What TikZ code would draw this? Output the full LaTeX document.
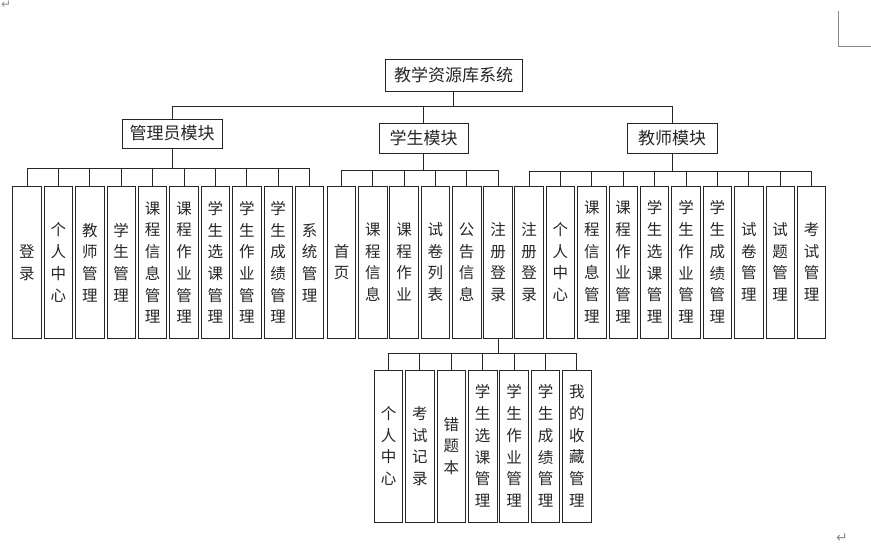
\documentclass[tikz,border=0pt]{standalone}
\usepackage{fontspec}
\newfontfamily\cjk{Noto Sans CJK SC}
\newfontfamily\dejavu{DejaVu Sans}
\begin{document}
\begin{tikzpicture}[x=1pt,y=-1pt,
  box/.style={draw=black!85,line width=0.9pt,inner sep=0pt,font={\cjk\fontsize{17}{19}\selectfont},text=black!85},
  leaf/.style={draw=black!85,line width=0.9pt,inner sep=0pt,minimum width=28.5pt,minimum height=152pt,align=center,font={\cjk\fontsize{15.5}{21.7}\selectfont},text=black!85},
  conn/.style={draw=black!85,line width=0.9pt},
  pagemark/.style={draw=black!45,line width=0.7pt}]
\useasboundingbox (0,0) rectangle (871,546);
% top level
\node[box,minimum width=137pt,minimum height=32pt] (root) at (453.5,75) {教学资源库系统};
\node[box,minimum width=100pt,minimum height=29pt] (adm) at (172,133.5) {管理员模块};
\node[box,minimum width=89pt,minimum height=30pt] (stu) at (423.5,138) {学生模块};
\node[box,minimum width=90pt,minimum height=30pt] (tea) at (672,138) {教师模块};
\coordinate (b0) at (0,106);
\draw[conn] (root.south) -- (root.south |- b0);
\draw[conn] (adm.north |- b0) -- (tea.north |- b0);
\draw[conn] (adm.north |- b0) -- (adm.north);
\draw[conn] (stu.north |- b0) -- (stu.north);
\draw[conn] (tea.north |- b0) -- (tea.north);
% admin leaves
\foreach \t [count=\i] in {{登\\录},{个\\人\\中\\心},{教\\师\\管\\理},{学\\生\\管\\理},{课\\程\\信\\息\\管\\理},{课\\程\\作\\业\\管\\理},{学\\生\\选\\课\\管\\理},{学\\生\\作\\业\\管\\理},{学\\生\\成\\绩\\管\\理},{系\\统\\管\\理}}
  \node[leaf] (a\i) at ({27+31.4*(\i-1)},262.5) {\t};
\coordinate (ab) at (0,168);
\draw[conn] (adm.south) -- (adm.south |- ab);
\draw[conn] (ab -| a1.north) -- (ab -| a10.north);
\foreach \i in {1,...,10} \draw[conn] (ab -| a\i.north) -- (a\i.north);
% student leaves
\foreach \t [count=\i] in {{首\\页},{课\\程\\信\\息},{课\\程\\作\\业},{试\\卷\\列\\表},{公\\告\\信\\息},{注\\册\\登\\录}}
  \node[leaf] (s\i) at ({341.5+31.3*(\i-1)},262) {\t};
\coordinate (sb) at (0,170);
\draw[conn] (stu.south) -- (stu.south |- sb);
\draw[conn] (sb -| s1.north) -- (sb -| s6.north);
\foreach \i in {1,...,6} \draw[conn] (sb -| s\i.north) -- (s\i.north);
% teacher leaves
\foreach \t [count=\i] in {{注\\册\\登\\录},{个\\人\\中\\心},{课\\程\\信\\息\\管\\理},{课\\程\\作\\业\\管\\理},{学\\生\\选\\课\\管\\理},{学\\生\\作\\业\\管\\理},{学\\生\\成\\绩\\管\\理},{试\\卷\\管\\理},{试\\题\\管\\理},{考\\试\\管\\理}}
  \node[leaf] (t\i) at ({529+31.4*(\i-1)},262) {\t};
\coordinate (tb) at (0,171);
\draw[conn] (tea.south) -- (tea.south |- tb);
\draw[conn] (tb -| t1.north) -- (tb -| t10.north);
\foreach \i in {1,...,10} \draw[conn] (tb -| t\i.north) -- (t\i.north);
% sub leaves of 注册登录
\foreach \t [count=\i] in {{个\\人\\中\\心},{考\\试\\记\\录},{错\\题\\本},{学\\生\\选\\课\\管\\理},{学\\生\\作\\业\\管\\理},{学\\生\\成\\绩\\管\\理},{我\\的\\收\\藏\\管\\理}}
  \node[leaf] (u\i) at ({388.5+31.4*(\i-1)},446) {\t};
\coordinate (ub) at (0,353);
\draw[conn] (s6.south) -- (s6.south |- ub);
\draw[conn] (ub -| u1.north) -- (ub -| u7.north);
\foreach \i in {1,...,7} \draw[conn] (ub -| u\i.north) -- (u\i.north);
% page marks
\node[text=black!45,font={\dejavu\fontsize{12}{12}\selectfont},inner sep=0pt,anchor=north west] (m1) at (1,1) {↵};
\node[text=black!45,font={\dejavu\fontsize{14}{14}\selectfont},inner sep=0pt] (m2) at (842,538) {↵};
\coordinate (c1) at (838,11);
\coordinate (c2) at (838,46);
\coordinate (c3) at (871,46);
\draw[pagemark] (c1) -- (c2) -- (c3);
\end{tikzpicture}
\end{document}
